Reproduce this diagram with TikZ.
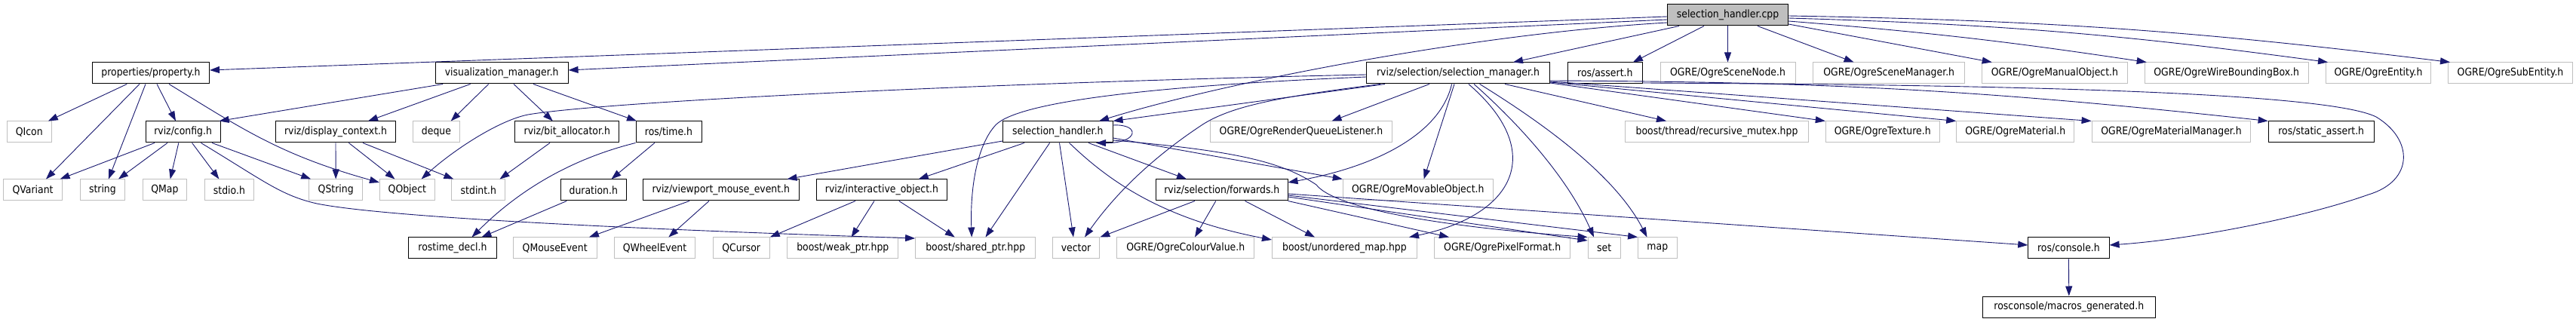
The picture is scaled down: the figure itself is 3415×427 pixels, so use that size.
\documentclass[tikz,border=0pt]{standalone}
\usepackage{fontspec}
\setmainfont{DejaVu Sans}[FakeStretch=0.89]
\usetikzlibrary{arrows.meta}
\definecolor{edgec}{RGB}{25,25,112}
\definecolor{graybd}{RGB}{191,191,191}
\begin{document}
\begin{tikzpicture}[x=1pt,y=-1pt,
 nb/.style={draw=black,fill=white,line width=1pt,minimum height=28pt,inner sep=0pt,font=\fontsize{14}{16}\selectfont},
 gb/.style={nb,draw=graybd},
 cb/.style={nb,fill=graybd},
 e/.style={draw=edgec,line width=0.9pt,-{Triangle[length=13pt,width=9pt]}}]
\useasboundingbox[fill=white] (0,0) rectangle (3415,427);
% row 0
\node[cb,minimum width=160] (cpp) at (2290.5,20) {selection\_handler.cpp};
% row 1
\node[nb,minimum width=155] (prop) at (200,97) {properties/property.h};
\node[nb,minimum width=175.7] (vism) at (665.2,97) {visualization\_manager.h};
\node[nb,minimum width=242.7] (selm) at (1933,97) {rviz/selection/selection\_manager.h};
\node[nb,minimum width=98.7] (rassert) at (2127.8,97) {ros/assert.h};
\node[gb,minimum width=179] (scnode) at (2290.5,97) {OGRE/OgreSceneNode.h};
\node[gb,minimum width=200.5] (scmgr) at (2504.2,97) {OGRE/OgreSceneManager.h};
\node[gb,minimum width=192.3] (manual) at (2723.9,97) {OGRE/OgreManualObject.h};
\node[gb,minimum width=216.7] (wirebb) at (2951.7,97) {OGRE/OgreWireBoundingBox.h};
\node[gb,minimum width=138.3] (entity) at (3153,97) {OGRE/OgreEntity.h};
\node[gb,minimum width=164.7] (subentity) at (3328,97) {OGRE/OgreSubEntity.h};
% row 2
\node[gb,minimum width=59.2] (qicon) at (38.8,175) {QIcon};
\node[nb,minimum width=99.1] (config) at (242.6,175) {rviz/config.h};
\node[nb,minimum width=159] (dispctx) at (445,175) {rviz/display\_context.h};
\node[gb,minimum width=62.1] (deque) at (578.5,175) {deque};
\node[nb,minimum width=138] (bitalloc) at (751.8,175) {rviz/bit\_allocator.h};
\node[nb,minimum width=87] (rtime) at (886.5,175) {ros/time.h};
\node[nb,minimum width=145.6] (selh) at (1402.3,175) {selection\_handler.h};
\node[gb,minimum width=241.6] (rql) at (1725,175) {OGRE/OgreRenderQueueListener.h};
\node[gb,minimum width=243.3] (mutex) at (2276,175) {boost/thread/recursive\_mutex.hpp};
\node[gb,minimum width=150.9] (texture) at (2495.7,175) {OGRE/OgreTexture.h};
\node[gb,minimum width=156.1] (material) at (2671.8,175) {OGRE/OgreMaterial.h};
\node[gb,minimum width=210.9] (matmgr) at (2878.5,175) {OGRE/OgreMaterialManager.h};
\node[nb,minimum width=140.2] (sassert) at (3077.2,175) {ros/static\_assert.h};
% row 3
\node[gb,minimum width=77.7] (qvariant) at (43.6,252) {QVariant};
\node[gb,minimum width=58.8] (string) at (135.9,252) {string};
\node[gb,minimum width=58.8] (qmap) at (218.4,252) {QMap};
\node[gb,minimum width=65.5] (stdio) at (303.9,252) {stdio.h};
\node[gb,minimum width=70.6] (qstring) at (445.2,252) {QString};
\node[gb,minimum width=72.9] (qobject) at (539.9,252) {QObject};
\node[gb,minimum width=71] (stdint) at (634.4,252) {stdint.h};
\node[nb,minimum width=87.3] (duration) at (786.8,252) {duration.h};
\node[nb,minimum width=207.2] (vpme) at (955.8,252) {rviz/viewport\_mouse\_event.h};
\node[nb,minimum width=173.5] (iobj) at (1169,252) {rviz/interactive\_object.h};
\node[nb,minimum width=174.4] (fwd) at (1619.8,252) {rviz/selection/forwards.h};
\node[gb,minimum width=199] (movable) at (1879.8,252) {OGRE/OgreMovableObject.h};
% row 4
\node[nb,minimum width=116.1] (rostimedecl) at (600,329) {rostime\_decl.h};
\node[gb,minimum width=111] (qmouse) at (735.7,329) {QMouseEvent};
\node[gb,minimum width=106.9] (qwheel) at (868,329) {QWheelEvent};
\node[gb,minimum width=75.1] (qcursor) at (982.7,329) {QCursor};
\node[gb,minimum width=146.8] (weakptr) at (1117.3,329) {boost/weak\_ptr.hpp};
\node[gb,minimum width=159.1] (sharedptr) at (1293.2,329) {boost/shared\_ptr.hpp};
\node[gb,minimum width=62.6] (vector) at (1426.5,329) {vector};
\node[gb,minimum width=182] (colour) at (1571.7,329) {OGRE/OgreColourValue.h};
\node[gb,minimum width=191.9] (umap) at (1782.4,329) {boost/unordered\_map.hpp};
\node[gb,minimum width=180.2] (pixel) at (1991.7,329) {OGRE/OgrePixelFormat.h};
\node[gb,minimum width=43.3] (set) at (2126.7,329) {set};
\node[gb,minimum width=51.4] (map) at (2197.3,329) {map};
\node[nb,minimum width=107.3] (console) at (2742.4,329) {ros/console.h};
% row 5
\node[nb,minimum width=228.5] (macros) at (2742.8,407) {rosconsole/macros\_generated.h};

% edges from selection_handler.cpp
\draw[e] ([yshift=-2]cpp.west) -- ([yshift=4]prop.east);
\draw[e] ([yshift=-6]cpp.west) -- ([yshift=4]vism.east);
\draw[e] ([xshift=-64.5]cpp.south) -- ([xshift=73]selm.north);
\draw[e] ([xshift=-31.5]cpp.south) -- ([xshift=37]rassert.north);
\draw[e] ([yshift=-10]cpp.west) .. controls (1950,45) and (1620,110) .. ([xshift=54.7]selh.north);
\draw[e] (cpp.south) -- (scnode.north);
\draw[e] ([xshift=39.5]cpp.south) -- ([xshift=-46.6]scmgr.north);
\draw[e] ([yshift=-12]cpp.east) -- ([xshift=-83.2]manual.north);
\draw[e] ([yshift=-8]cpp.east) to[bend left=2] ([xshift=-106]wirebb.north);
\draw[e] ([yshift=-4]cpp.east) to[bend left=3] ([xshift=-67]entity.north);
\draw[e] ([yshift=-1]cpp.east) to[bend left=3] ([xshift=-80]subentity.north);
% properties/property.h
\draw[e] ([xshift=-31.7]prop.south) -- ([xshift=25]qicon.north);
\draw[e] ([xshift=-15]prop.south) -- ([xshift=17.4]qvariant.north);
\draw[e] ([xshift=-7]prop.south) -- ([xshift=8]string.north);
\draw[e] ([xshift=8]prop.south) -- ([xshift=-9.6]config.north);
\draw[e] ([xshift=24]prop.south) .. controls (320,170) and (370,205) .. ([yshift=10]qobject.west);
% visualization_manager.h
\draw[e] ([xshift=-78]vism.south) -- ([xshift=48]config.north);
\draw[e] ([xshift=-41.6]vism.south) -- ([xshift=43]dispctx.north);
\draw[e] ([xshift=-17.5]vism.south) -- ([xshift=19.2]deque.north);
\draw[e] ([xshift=15.8]vism.south) -- ([xshift=-19]bitalloc.north);
\draw[e] ([xshift=41.8]vism.south) -- ([xshift=-42.5]rtime.north);
% rviz/config.h
\draw[e] ([xshift=-37.6]config.south) -- ([xshift=36]qvariant.north);
\draw[e] ([xshift=-20.6]config.south) -- ([xshift=21]string.north);
\draw[e] ([xshift=-5.8]config.south) -- ([xshift=7.3]qmap.north);
\draw[e] ([xshift=12]config.south) -- ([xshift=-13.5]stdio.north);
\draw[e] ([xshift=38.4]config.south) -- ([xshift=-33]qstring.north);
\draw[e] ([xshift=23.8]config.south) .. controls (350,240) and (372,259) .. (420,270) .. controls (520,290) and (900,306) .. ([yshift=13]sharedptr.west);
% rviz/display_context.h
\draw[e] (dispctx.south) -- (qstring.north);
\draw[e] ([xshift=17.4]dispctx.south) -- ([xshift=-16.4]qobject.north);
\draw[e] ([xshift=36]dispctx.south) -- ([xshift=-33]stdint.north);
% selection_manager.h
\draw[e] ([yshift=-2]selm.west) .. controls (1300,110) and (800,135) .. (700,152) .. controls (660,160) and (600,200) .. ([xshift=18.7]qobject.north);
\draw[e] ([yshift=-5]selm.west) .. controls (1500,115) and (1340,138) .. (1318,168) .. controls (1295,195) and (1286,250) .. ([xshift=-5]sharedptr.north);
\draw[e] ([xshift=-97]selm.south) -- (selh.north east);
\draw[e] ([xshift=-103]selm.south) .. controls (1700,128) and (1630,140) .. (1590,168) .. controls (1530,208) and (1480,255) .. ([xshift=11.5]vector.north);
\draw[e] ([xshift=-38]selm.south) -- ([xshift=40.5]rql.north);
\draw[e] ([xshift=-8.4]selm.south) .. controls (1910,175) and (1830,220) .. ([yshift=10]fwd.east);
\draw[e] ([xshift=-5]selm.south) -- ([xshift=7.8]movable.north);
\draw[e] ([xshift=13.8]selm.south) .. controls (2050,200) and (2010,285) .. ([xshift=85.6]umap.north);
\draw[e] ([xshift=21]selm.south) .. controls (2020,170) and (2080,240) .. ([xshift=-13.7]set.north);
\draw[e] ([xshift=28.6]selm.south) .. controls (2040,160) and (2140,230) .. ([xshift=-13.8]map.north);
\draw[e] ([xshift=62]selm.south) -- ([xshift=-67]mutex.north);
\draw[e] ([yshift=-13]selm.east) -- (texture.north west);
\draw[e] ([yshift=-12]selm.east) -- (material.north west);
\draw[e] ([yshift=-11]selm.east) -- (matmgr.north west);
\draw[e] ([yshift=-10]selm.east) to[bend left=3] (sassert.north west);
% ros/assert.h
\draw[e] ([yshift=-13]rassert.east) .. controls (2600,112) and (3080,120) .. (3150,155) .. controls (3200,185) and (3200,240) .. (3140,258) .. controls (3050,290) and (2900,318) .. ([yshift=4]console.east);
% rviz/selection/forwards.h
\draw[e] ([xshift=-35.8]fwd.south) -- (vector.north east);
\draw[e] ([xshift=-8]fwd.south) -- ([xshift=12.3]colour.north);
\draw[e] ([xshift=30.7]fwd.south) -- ([xshift=-39.4]umap.north);
\draw[e] (fwd.south east) -- ([xshift=-70.7]pixel.north);
\draw[e] ([yshift=-9]fwd.east) -- ([yshift=10]set.west);
\draw[e] ([yshift=-7]fwd.east) -- (map.north west);
\draw[e] ([yshift=-5]fwd.east) -- ([yshift=4]console.west);
% selection_handler.h
\draw[e] ([yshift=-12]selh.west) -- ([xshift=87.7]vpme.north);
\draw[e] ([xshift=-44.3]selh.south) -- ([xshift=48.7]iobj.north);
\draw[e] ([xshift=-10.7]selh.south) -- ([xshift=13.3]sharedptr.north);
\draw[e] ([xshift=2.2]selh.south) -- ([xshift=-3.5]vector.north);
\draw[e] ([xshift=15.2]selh.south) .. controls (1470,240) and (1540,290) .. ([yshift=11]umap.west);
\draw[e] ([xshift=40.7]selh.south) -- ([xshift=-46.8]fwd.north);
\draw[e] ([yshift=-8]selh.east) -- (movable.north west);
\draw[e] ([yshift=-11]selh.east) .. controls (1640,200) and (1700,215) .. (1745,245) .. controls (1768,275) and (1900,300) .. (set.north west);
\draw[e] ([yshift=9]selh.east) .. controls (1512,164) and (1510,190) .. ([xshift=50.7]selh.south);
% rviz/interactive_object.h
\draw[e] ([xshift=-35]iobj.south) -- (qcursor.north east);
\draw[e] ([xshift=-10]iobj.south) -- ([xshift=11.3]weakptr.north);
\draw[e] ([xshift=22.8]iobj.south) -- ([xshift=-27.4]sharedptr.north);
% rviz/viewport_mouse_event.h
\draw[e] ([xshift=-41.8]vpme.south) -- ([xshift=45.2]qmouse.north);
\draw[e] ([xshift=-15.8]vpme.south) -- ([xshift=18.3]qwheel.north);
% ros/time.h and others
\draw[e] ([xshift=-18.7]rtime.south) -- ([xshift=23.7]duration.north);
\draw[e] (rtime.south west) .. controls (760,210) and (690,250) .. ([xshift=25.5]rostimedecl.north);
\draw[e] ([xshift=-35.5]duration.south) -- ([xshift=38.4]rostimedecl.north);
\draw[e] ([xshift=-22.8]bitalloc.south) -- ([xshift=28.1]stdint.north);
\draw[e] (console.south) -- (macros.north);
\end{tikzpicture}
\end{document}
